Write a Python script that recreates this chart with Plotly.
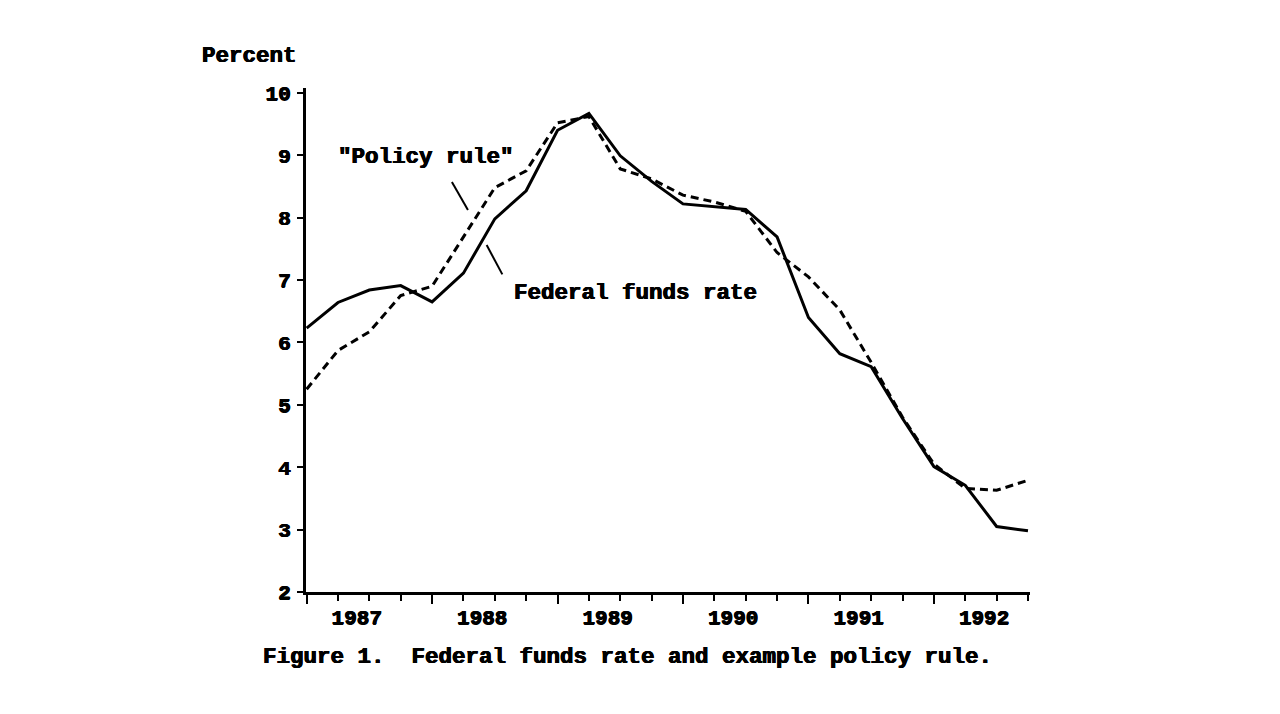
import plotly.graph_objects as go

years = [1987, 1988, 1989, 1990, 1991, 1992]
quarters = [1, 2, 3, 4]
periods = [(y, q) for y in years for q in quarters]

fed_funds = [6.23, 6.64, 6.84, 6.91, 6.65, 7.11, 7.98, 8.43,
             9.40, 9.67, 8.99, 8.58, 8.22, 8.18, 8.13, 7.69,
             6.40, 5.82, 5.61, 4.78, 4.01, 3.71, 3.05, 2.98]
policy_rule = [5.25, 5.87, 6.17, 6.75, 6.90, 7.70, 8.48, 8.75,
               9.52, 9.62, 8.78, 8.62, 8.36, 8.25, 8.10, 7.44,
               7.05, 6.52, 5.68, 4.80, 4.05, 3.66, 3.63, 3.79]
year_labels = [str(y) for y in years]
y_ticks = [2, 3, 4, 5, 6, 7, 8, 9, 10]

x = [y + (q - 1) / 4 for (y, q) in periods]

FONT = "Liberation Mono"
TXT = 22.5
TICK = 21
SH = "0.5px 0 0 black, -0.5px 0 0 black, 0 0.4px 0 black"


def fnt(size):
    return dict(family=FONT, size=size, color="black", weight="bold", shadow=SH)


fig = go.Figure()
fig.add_trace(go.Scatter(x=x, y=policy_rule, mode="lines", name="Policy rule",
                         line=dict(color="black", width=3, dash="8px,5px")))
fig.add_trace(go.Scatter(x=x, y=fed_funds, mode="lines", name="Federal funds rate",
                         line=dict(color="black", width=3)))
# invisible trace for the overlay axis carrying year-boundary ticks
fig.add_trace(go.Scatter(x=[years[0]], y=[5], xaxis="x2", mode="markers",
                         marker=dict(opacity=0), showlegend=False, hoverinfo="skip"))

xr = [1986.995, 1992.766]
fig.update_layout(
    width=1280, height=714,
    margin=dict(l=298, r=258, t=80, b=130),
    plot_bgcolor="white", paper_bgcolor="white",
    showlegend=False,
    font=fnt(TXT),
    xaxis=dict(range=xr, tickmode="array",
               tickvals=[y + 0.4 for y in years], ticktext=year_labels,
               ticks="", showline=True, linewidth=3, linecolor="black",
               showgrid=False, zeroline=False, ticklabelstandoff=4,
               tickfont=fnt(TICK),
               minor=dict(tickmode="array", tickvals=x, ticks="outside",
                          ticklen=6, tickwidth=2, tickcolor="black", showgrid=False)),
    xaxis2=dict(range=xr, overlaying="x", side="bottom", tickmode="array",
                tickvals=years, ticks="outside", ticklen=11, tickwidth=2,
                tickcolor="black", showticklabels=False, showline=False,
                showgrid=False, zeroline=False),
    yaxis=dict(range=[2, 10.077], tickmode="array", tickvals=y_ticks,
               ticks="outside", ticklen=6, tickwidth=2, tickcolor="black",
               showline=True, linewidth=3, linecolor="black",
               showgrid=False, zeroline=False, ticklabelstandoff=2,
               tickfont=fnt(TICK)),
)

fig.add_annotation(text="Percent", xref="paper", yref="paper", x=-0.147, y=1.063,
                   xanchor="left", yanchor="middle", showarrow=False,
                   font=fnt(TXT))
fig.add_annotation(text="\"Policy rule\"", x=1987.955, y=8.97, showarrow=False,
                   xanchor="center", yanchor="middle", font=fnt(TXT))
fig.add_annotation(text="Federal funds rate", x=1989.625, y=6.79, showarrow=False,
                   xanchor="center", yanchor="middle", font=fnt(TXT))
fig.add_annotation(text="Figure 1.\u00a0\u00a0Federal funds rate and example policy rule.",
                   xref="paper", yref="paper", x=0.444, y=-0.129,
                   xanchor="center", yanchor="middle", showarrow=False,
                   font=fnt(TXT))

fig.add_shape(type="line", x0=1988.158, y0=8.57, x1=1988.286, y1=8.12,
              line=dict(color="black", width=2))
fig.add_shape(type="line", x0=1988.435, y0=7.56, x1=1988.56, y1=7.09,
              line=dict(color="black", width=2))

fig.write_html("out.html")
